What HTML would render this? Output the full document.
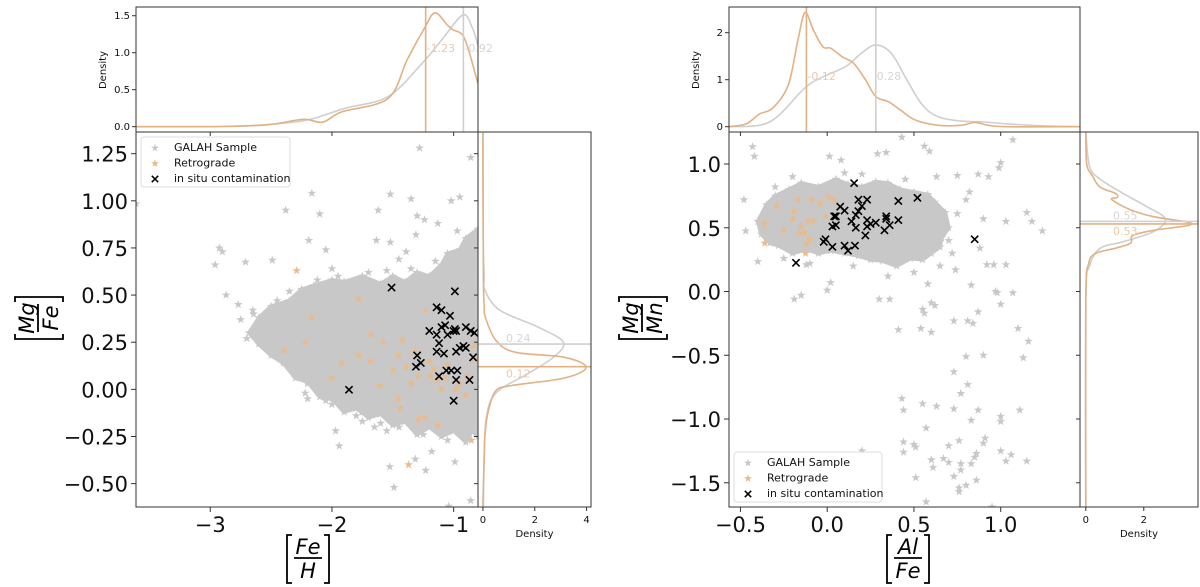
<!DOCTYPE html>
<html><head><meta charset="utf-8"><style>
html,body{margin:0;padding:0;background:#fff;}
svg{display:block;font-family:"DejaVu Sans","Liberation Sans",sans-serif;}
</style></head><body>
<svg id="fig" width="1200" height="587" viewBox="0 0 1200 587" xmlns="http://www.w3.org/2000/svg">
<defs>
<clipPath id="c1m"><rect x="136" y="132" width="342" height="375"/></clipPath>
<clipPath id="c1t"><rect x="136" y="7" width="342" height="125"/></clipPath>
<clipPath id="c1r"><rect x="478" y="132" width="113" height="375"/></clipPath>
<clipPath id="c2m"><rect x="729" y="132" width="351" height="375"/></clipPath>
<clipPath id="c2t"><rect x="729" y="7" width="351" height="125"/></clipPath>
<clipPath id="c2r"><rect x="1080" y="132" width="118" height="375"/></clipPath>
</defs>
</svg>
<script>
// ---------- LEFT PANEL DATA ([Fe/H] vs [Mg/Fe]) ----------
const L_cloud_x=[-2.68,-2.6,-2.5,-2.35,-2.25,-2.15,-2.0,-1.9,-1.75,-1.6,-1.5,-1.4,-1.3,-1.2,-1.1,-1.05,-0.95,-0.9,-0.8,-0.8,-0.85,-0.9,-1.0,-1.1,-1.2,-1.3,-1.4,-1.5,-1.6,-1.7,-1.8,-1.9,-2.0,-2.1,-2.2,-2.3,-2.4,-2.5,-2.6];
const L_cloud_y=[0.30,0.38,0.44,0.47,0.53,0.55,0.58,0.57,0.60,0.56,0.60,0.57,0.62,0.60,0.66,0.72,0.74,0.80,0.85,-0.25,-0.22,-0.28,-0.22,-0.25,-0.2,-0.24,-0.17,-0.19,-0.13,-0.15,-0.10,-0.12,-0.05,-0.04,0.04,0.06,0.14,0.18,0.24];
const L_gray_x=[-1.28,-0.86,-2.165,-1.52,-1.35,-1.02,-0.95,-2.38,-2.1,-1.62,-1.3,-1.24,-1.13,-0.97,-2.19,-2.05,-1.635,-1.52,-2.925,-2.9,-2.96,-2.71,-2.49,-2.0,-1.45,-1.39,-1.31,-3.61,-2.87,-2.77,-2.75,-2.645,-2.55,-2.565,-2.33,-2.22,-2.2,-1.97,-1.94,-1.65,-1.55,-1.525,-1.49,-1.315,-1.23,-1.18,-1.04,-0.99,-0.86,-1.04,-2.6,-2.45,-2.3,-2.4,-2.2,-2.05,-1.8,-1.75,-2.7,-2.65,-2.45,-2.35,-2.12,-1.95,-1.7,-1.55,-1.35,-1.15,-1.75,-1.85,-2.0,-1.6,-1.45,-1.25,-1.05];
const L_gray_y=[1.28,1.23,1.04,1.035,1.01,1.0,1.02,0.95,0.93,0.95,0.92,0.9,0.88,0.84,0.79,0.74,0.79,0.78,0.75,0.73,0.66,0.675,0.685,0.64,0.69,0.73,0.82,0.985,0.5,0.45,0.37,0.40,0.34,0.26,0.12,-0.02,-0.05,-0.22,-0.30,-0.2,-0.22,-0.41,-0.52,-0.37,-0.43,-0.33,-0.22,-0.385,-0.59,-0.62,0.25,0.2,0.08,0.15,0.03,-0.06,-0.14,-0.17,0.27,0.42,0.47,0.52,0.58,0.6,0.62,0.63,0.64,0.68,-0.12,-0.1,-0.08,-0.18,-0.2,-0.24,-0.27];
const L_retro_x=[-2.29,-1.78,-2.165,-2.39,-2.22,-1.92,-1.78,-1.685,-1.68,-1.58,-1.455,-1.42,-1.39,-1.32,-1.29,-1.23,-1.19,-1.16,-1.13,-1.1,-1.07,-0.95,-0.9,-0.89,-1.455,-1.44,-1.29,-1.24,-1.13,-0.855,-1.37,-1.61,-2.0,-0.84,-0.83,-1.2,-1.05,-0.98,-1.35,-1.5];
const L_retro_y=[0.63,0.48,0.38,0.205,0.25,0.14,0.18,0.15,0.29,0.25,0.18,0.26,0.12,0.2,0.07,0.42,0.07,0.11,0.05,0.0,0.06,0.03,-0.03,0.07,-0.05,-0.1,-0.16,-0.15,-0.19,-0.27,-0.4,0.02,0.06,0.23,0.16,0.15,0.13,0.0,0.03,0.1];
const L_cont_x=[-1.51,-0.99,-1.14,-1.10,-1.03,-1.20,-1.14,-1.10,-1.07,-1.05,-1.00,-0.99,-0.98,-0.90,-0.86,-0.83,-1.30,-1.31,-1.27,-1.12,-1.14,-1.08,-0.98,-0.95,-0.92,-0.90,-0.84,-1.12,-1.06,-1.02,-0.97,-0.98,-0.87,-1.00,-1.86];
const L_cont_y=[0.54,0.52,0.435,0.42,0.39,0.31,0.29,0.33,0.34,0.29,0.31,0.32,0.31,0.33,0.31,0.30,0.18,0.12,0.14,0.245,0.20,0.19,0.20,0.22,0.23,0.22,0.17,0.07,0.10,0.10,0.10,0.05,0.05,-0.06,-0.002];
const L_top_gray_x=[-3.61,-2.9,-2.52,-2.2,-1.89,-1.54,-1.257,-1.1,-0.925,-0.85,-0.80];
const L_top_gray_d=[0,0.002,0.03,0.09,0.25,0.405,0.86,1.17,1.51,1.35,1.1];
const L_top_orng_x=[-3.61,-2.9,-2.52,-2.235,-2.077,-1.92,-1.54,-1.383,-1.24,-1.153,-1.05,-1.005,-0.91,-0.80];
const L_top_orng_d=[0,0.002,0.027,0.10,0.06,0.2,0.38,0.9,1.33,1.54,1.37,1.31,1.19,0.58];
const L_rgt_gray_y=[1.36,0.8,0.6,0.525,0.42,0.33,0.25,0.17,0.08,-0.02,-0.15,-0.37,-0.62];
const L_rgt_gray_d=[0,0.01,0.05,0.08,0.65,2.13,3.1,2.72,1.69,0.5,0.13,0.05,0.02];
const L_rgt_orng_y=[1.36,0.6,0.45,0.383,0.26,0.197,0.17,0.117,0.06,0.02,-0.007,-0.113,-0.22,-0.35,-0.62];
const L_rgt_orng_d=[0,0.02,0.05,0.09,0.5,1.24,3.15,3.98,3.15,1.1,0.5,0.21,0.09,0.05,0.0];
const L_medians=[-1.23,-0.92,0.24,0.12];
const L_xticks=[-3,-2,-1], L_xtick_labels=["−3","−2","−1"];
const L_yticks=[-0.5,-0.25,0,0.25,0.5,0.75,1.0,1.25], L_ytick_labels=["−0.50","−0.25","0.00","0.25","0.50","0.75","1.00","1.25"];
const L_top_ticks=[0,0.5,1.0,1.5], L_top_tick_labels=["0.0","0.5","1.0","1.5"];
const L_rgt_ticks=[0,2,4], L_rgt_tick_labels=["0","2","4"];

// ---------- RIGHT PANEL DATA ([Al/Fe] vs [Mg/Mn]) ----------
const R_cloud_x=[-0.4,-0.35,-0.3,-0.22,-0.15,-0.05,0.05,0.12,0.2,0.28,0.35,0.42,0.5,0.58,0.62,0.68,0.7,0.66,0.65,0.6,0.55,0.48,0.4,0.32,0.25,0.18,0.1,0.02,-0.05,-0.12,-0.2,-0.28,-0.33,-0.38];
const R_cloud_y=[0.55,0.68,0.75,0.8,0.85,0.82,0.88,0.84,0.82,0.86,0.85,0.8,0.78,0.76,0.70,0.62,0.5,0.42,0.35,0.3,0.25,0.26,0.20,0.24,0.25,0.28,0.30,0.32,0.30,0.33,0.30,0.36,0.38,0.45];
const R_gray_x=[-0.43,-0.42,0.013,0.08,0.29,0.34,0.43,0.56,0.59,1.07,1.0,0.99,0.87,0.93,0.75,0.63,-0.48,-0.47,-0.4,-0.12,0.02,0.0,0.75,0.8,0.82,0.9,1.03,1.15,1.18,1.24,0.92,0.96,1.03,0.88,0.83,0.97,1.07,0.58,0.74,-0.19,-0.15,0.3,0.36,0.55,0.56,0.6,0.62,0.73,0.81,0.84,0.87,0.98,1.0,1.1,1.16,1.13,0.8,0.9,0.73,0.81,0.77,0.41,0.54,0.6,0.43,0.44,0.55,0.63,0.73,0.87,1.11,0.57,0.83,1.0,1.0,0.76,0.7,0.91,0.9,0.44,0.44,0.5,0.51,0.2,0.6,0.61,0.67,0.7,0.77,0.77,0.83,0.85,0.86,1.0,1.06,1.03,1.15,0.51,0.73,0.76,0.76,0.8,0.86,0.57,0.95,-0.3,-0.2,0.1,0.2,0.45,0.7,0.72,0.65,0.5,0.35,0.15,-0.1,-0.25];
const R_gray_y=[1.136,1.06,1.06,1.03,1.08,1.09,1.21,1.14,1.1,1.19,1.01,0.97,0.92,0.9,0.91,0.9,0.72,0.475,0.235,0.21,0.07,0.01,0.61,0.72,0.78,0.57,0.55,0.62,0.55,0.475,0.21,0.21,0.21,0.34,0.05,0.0,-0.01,0.06,0.17,-0.06,-0.03,-0.06,-0.06,-0.14,-0.17,-0.09,-0.11,-0.23,-0.23,-0.25,-0.16,-0.01,-0.1,-0.29,-0.39,-0.52,-0.51,-0.5,-0.63,-0.73,-0.8,-0.3,-0.29,-0.32,-0.84,-0.93,-0.88,-0.9,-0.92,-0.93,-0.93,-1.07,-1.01,-1.02,-0.98,-1.17,-1.21,-1.15,-1.19,-1.18,-1.26,-1.2,-1.22,-1.25,-1.32,-1.38,-1.31,-1.34,-1.35,-1.4,-1.35,-1.3,-1.27,-1.25,-1.28,-1.33,-1.33,-1.46,-1.45,-1.54,-1.57,-1.52,-1.48,-1.65,-1.69,0.82,0.9,0.93,0.92,0.88,0.4,0.3,0.2,0.15,0.12,0.2,0.22,0.26];
const R_retro_x=[-0.36,-0.36,-0.29,-0.25,-0.2,-0.19,-0.17,-0.15,-0.13,-0.12,-0.11,-0.1,-0.09,-0.08,-0.125,-0.04,-0.01,0.01,0.04,-0.16];
const R_retro_y=[0.53,0.38,0.67,0.48,0.57,0.63,0.72,0.51,0.46,0.37,0.55,0.41,0.72,0.56,0.30,0.69,0.59,0.74,0.72,0.46];
const R_cont_x=[-0.18,0.155,0.075,0.05,0.04,0.1,0.03,0.05,-0.01,-0.02,0.03,0.1,0.12,0.16,0.14,0.165,0.18,0.2,0.18,0.23,0.165,0.23,0.25,0.23,0.22,0.28,0.34,0.34,0.36,0.33,0.41,0.41,0.52,0.85];
const R_cont_y=[0.225,0.85,0.665,0.59,0.59,0.635,0.51,0.52,0.41,0.39,0.35,0.36,0.32,0.36,0.55,0.6,0.63,0.67,0.72,0.72,0.5,0.56,0.53,0.51,0.44,0.54,0.59,0.57,0.52,0.48,0.56,0.71,0.735,0.41];
const R_top_gray_x=[-0.568,-0.332,-0.13,-0.025,0.107,0.196,0.28,0.37,0.46,0.549,0.64,0.77,0.906,1.04,1.24,1.457];
const R_top_gray_d=[0,0.1,0.82,1.06,1.28,1.56,1.74,1.56,0.99,0.46,0.21,0.12,0.10,0.06,0.02,0];
const R_top_orng_x=[-0.568,-0.467,-0.39,-0.313,-0.224,-0.169,-0.128,-0.08,-0.025,0.02,0.086,0.153,0.22,0.28,0.353,0.42,0.508,0.64,0.77,0.851,0.93,1.04,1.457];
const R_top_orng_d=[0,0.06,0.27,0.4,0.89,1.84,2.43,2.06,1.7,1.67,1.49,1.35,1.0,0.64,0.53,0.36,0.143,0.029,0.03,0.09,0.03,0,0];
const R_rgt_gray_y=[1.25,0.98,0.88,0.77,0.67,0.57,0.47,0.39,0.34,0.2,-0.07,-1.69];
const R_rgt_gray_d=[0,0.13,0.5,1.28,2.07,2.74,2.34,1.28,0.5,0.13,0,0];
const R_rgt_orng_y=[1.25,1.0,0.91,0.82,0.77,0.74,0.72,0.64,0.587,0.53,0.48,0.44,0.38,0.34,0.3,0.22,-0.07,-1.69];
const R_rgt_orng_d=[0,0.03,0.22,0.49,1.02,1.09,0.9,1.55,2.34,3.67,2.34,1.62,1.55,1.02,0.35,0.1,0,0];
const R_medians=[-0.12,0.28,0.55,0.53];
const R_xticks=[-0.5,0,0.5,1.0], R_xtick_labels=["−0.5","0.0","0.5","1.0"];
const R_yticks=[-1.5,-1.0,-0.5,0,0.5,1.0], R_ytick_labels=["−1.5","−1.0","−0.5","0.0","0.5","1.0"];
const R_top_ticks=[0,1,2], R_top_tick_labels=["0","1","2"];
const R_rgt_ticks=[0,2], R_rgt_tick_labels=["0","2"];

const NS="http://www.w3.org/2000/svg";
const svg=document.getElementById('fig');
const GRAY="#c8c8c8", ORNG="#e8bb8f", LGRAY="#cfcfcf", LORNG="#e2b184";
function mk(tag,attrs,parent){const e=document.createElementNS(NS,tag);for(const k in attrs)e.setAttribute(k,attrs[k]);(parent||svg).appendChild(e);return e;}
function lin(d0,d1,r0,r1){return v=>r0+(v-d0)/(d1-d0)*(r1-r0);}
function starPath(cx,cy,R){let s="";for(let i=0;i<10;i++){const r=i%2?R*0.4:R;const a=-Math.PI/2+i*Math.PI/5;s+=(i?"L":"M")+(cx+r*Math.cos(a)).toFixed(1)+","+(cy+r*Math.sin(a)).toFixed(1);}return s+"Z";}
function smooth(pts){let d="M"+pts[0][0]+","+pts[0][1];for(let i=0;i<pts.length-1;i++){const p0=pts[i-1]||pts[i],p1=pts[i],p2=pts[i+1],p3=pts[i+2]||p2;const c1=[p1[0]+(p2[0]-p0[0])/6,p1[1]+(p2[1]-p0[1])/6],c2=[p2[0]-(p3[0]-p1[0])/6,p2[1]-(p3[1]-p1[1])/6];d+="C"+c1.join(",")+" "+c2.join(",")+" "+p2.join(",");}return d;}

function panel(P){
  const X=lin(P.xd[0],P.xd[1],P.m.x0,P.m.x1), Y=lin(P.yd[0],P.yd[1],P.m.y1,P.m.y0);
  const TD=lin(P.td[0],P.td[1],P.t.y1,P.t.y0), RD=lin(P.rd[0],P.rd[1],P.r.x0,P.r.x1);
  const gm=mk('g',{'clip-path':'url(#'+P.id+'m)'});
  
  
  const cp=P.cx.map((v,i)=>[X(v),Y(P.cy[i])]);
  const cloud=mk('path',{d:"M"+cp.map(p=>p.map(n=>n.toFixed(1)).join(",")).join("L")+"Z",fill:GRAY,stroke:GRAY,'stroke-width':4,'stroke-linejoin':'round'},gm);
  
  
  // stars along the cloud edge (rough texture)
  cp.forEach(p=>{const s=mk('path',{d:starPath(p[0],p[1],4.6),fill:GRAY},gm);
    
    });
  P.gx.forEach((v,i)=>{const s=mk('path',{d:starPath(X(v),Y(P.gy[i]),4.6),fill:GRAY},gm);
    
    });
  P.ox.forEach((v,i)=>{const s=mk('path',{d:starPath(X(v),Y(P.oy[i]),4.6),fill:ORNG},gm);
    
    });
  P.kx.forEach((v,i)=>{const x=X(v),y=Y(P.ky[i]);const s=mk('path',{d:`M${x-3.6},${y-3.6}L${x+3.6},${y+3.6}M${x-3.6},${y+3.6}L${x+3.6},${y-3.6}`,stroke:'#000','stroke-width':1.6},gm);
    
    });
  const gt=mk('g',{'clip-path':'url(#'+P.id+'t)'});
  
  
  [[P.tgx,P.tgd,LGRAY,'gray'],[P.tox,P.tod,LORNG,'retrograde']].forEach(([xs,ds,c,n])=>{
    const l=mk('path',{d:smooth(xs.map((v,i)=>[+X(v).toFixed(1),+TD(ds[i]).toFixed(1)])),fill:'none',stroke:c,'stroke-width':1.6},gt);
    
    });
  const gr=mk('g',{'clip-path':'url(#'+P.id+'r)'});
  
  
  [[P.rgy,P.rgd,LGRAY,'gray'],[P.roy,P.rod,LORNG,'retrograde']].forEach(([ys,ds,c,n])=>{
    const l=mk('path',{d:smooth(ys.map((v,i)=>[+RD(ds[i]).toFixed(1),+Y(v).toFixed(1)])),fill:'none',stroke:c,'stroke-width':1.6},gr);
    
    });
  const med=P.med;
  [[med[0],LORNG],[med[1],LGRAY]].forEach(([v,c])=>{const l=mk('line',{x1:X(v),x2:X(v),y1:P.t.y0,y2:P.t.y1,stroke:c,'stroke-width':1.6});
    
    });
  [[med[2],LGRAY],[med[3],LORNG]].forEach(([v,c])=>{const l=mk('line',{x1:P.r.x0,x2:P.r.x1,y1:Y(v),y2:Y(v),stroke:c,'stroke-width':1.6});
    
    });
  const fmt=v=>(v<0?"-":"")+Math.abs(v).toFixed(2);
  [[med[0],'#ecc9a6'],[med[1],'#d6d6d6']].forEach(([v,c])=>{const t=mk('text',{x:X(v)+1,y:P.tly,fill:c,'font-size':11},svg);t.textContent=fmt(v);
    
    });
  [[med[2],'#d6d6d6',-2],[med[3],'#ecc9a6',11]].forEach(([v,c,o])=>{const t=mk('text',{x:P.rlx,y:Y(v)+o,fill:c,'font-size':11},svg);t.textContent=fmt(v);
    
    });
  [P.t,P.m,P.r].forEach((b,i)=>{const f=mk('rect',{x:b.x0,y:b.y0,width:b.x1-b.x0,height:b.y1-b.y0,fill:'none',stroke:'#333','stroke-width':1});
    
    });
  P.xt.forEach((v,i)=>{const x=X(v);mk('line',{x1:x,x2:x,y1:P.m.y1,y2:P.m.y1+5,stroke:'#333'});mk('line',{x1:x,x2:x,y1:P.m.y0,y2:P.m.y0+4,stroke:'#333'});
    const t=mk('text',{x:x,y:P.m.y1+25,'font-size':21,'text-anchor':'middle',fill:'#111'});t.textContent=P.xl[i];
    
    });
  P.yt.forEach((v,i)=>{const y=Y(v);mk('line',{x1:P.m.x0-5,x2:P.m.x0,y1:y,y2:y,stroke:'#333'});mk('line',{x1:P.m.x1-4,x2:P.m.x1,y1:y,y2:y,stroke:'#333'});
    const t=mk('text',{x:P.m.x0-8,y:y+8,'font-size':21,'text-anchor':'end',fill:'#111'});t.textContent=P.yl[i];
    
    });
  P.tt.forEach((v,i)=>{const y=TD(v);mk('line',{x1:P.t.x0-4,x2:P.t.x0,y1:y,y2:y,stroke:'#333'});
    const t=mk('text',{x:P.t.x0-6,y:y+3.5,'font-size':10,'text-anchor':'end',fill:'#111'});t.textContent=P.tl[i];
    
    });
  P.rt.forEach((v,i)=>{const x=RD(v);mk('line',{x1:x,x2:x,y1:P.r.y1,y2:P.r.y1+4,stroke:'#333'});
    const t=mk('text',{x:x,y:P.r.y1+16,'font-size':10,'text-anchor':'middle',fill:'#111'});t.textContent=P.rl[i];
    
    });
  const d1=mk('text',{x:0,y:0,'font-size':10,'text-anchor':'middle',transform:`translate(${P.t.x0-30},70) rotate(-90)`,fill:'#111'});d1.textContent="Density";
  
  
  const d2=mk('text',{x:(P.r.x0+P.r.x1)/2,y:537,'font-size':10,'text-anchor':'middle',fill:'#111'});d2.textContent="Density";
  
  
  const lg=mk('g',{});
  
  
  const L=P.leg;
  mk('rect',{x:L.x,y:L.y,width:L.w,height:50,rx:3,fill:'#fff','fill-opacity':0.85,stroke:'#ddd'},lg);
  [["GALAH Sample",GRAY,'star'],["Retrograde",ORNG,'star'],["in situ contamination","#000",'x']].forEach(([s,c,m],i)=>{
    const y=L.y+10+i*15.5, mx=L.x+14;
    const mkr=m=='star'?mk('path',{d:starPath(mx,y+1,4.2),fill:c},lg):mk('path',{d:`M${mx-3.2},${y-2.2}L${mx+3.2},${y+4.2}M${mx-3.2},${y+4.2}L${mx+3.2},${y-2.2}`,stroke:'#000','stroke-width':1.5},lg);
    
    
    const t=mk('text',{x:L.x+33,y:y+4,'font-size':11,fill:'#111'},lg);t.textContent=s;
    
    });
}

panel({id:'c1',pre:'left',xd:[-3.61,-0.80],yd:[-0.624,1.365],td:[-0.072,1.618],rd:[-0.19,4.17],
  m:{x0:136,x1:478,y0:132,y1:507},t:{x0:136,x1:478,y0:7,y1:132},r:{x0:478,x1:591,y0:132,y1:507},
  cx:L_cloud_x,cy:L_cloud_y,gx:L_gray_x,gy:L_gray_y,ox:L_retro_x,oy:L_retro_y,kx:L_cont_x,ky:L_cont_y,
  tgx:L_top_gray_x,tgd:L_top_gray_d,tox:L_top_orng_x,tod:L_top_orng_d,rgy:L_rgt_gray_y,rgd:L_rgt_gray_d,roy:L_rgt_orng_y,rod:L_rgt_orng_d,
  med:L_medians,tly:52,rlx:506,xt:L_xticks,xl:L_xtick_labels,yt:L_yticks,yl:L_ytick_labels,tt:L_top_ticks,tl:L_top_tick_labels,rt:L_rgt_ticks,rl:L_rgt_tick_labels,
  leg:{x:141,y:137,w:149}});
panel({id:'c2',pre:'right',xd:[-0.566,1.457],yd:[-1.69,1.251],td:[-0.113,2.547],rd:[-0.2,3.87],
  m:{x0:729,x1:1080,y0:132,y1:507},t:{x0:729,x1:1080,y0:7,y1:132},r:{x0:1080,x1:1198,y0:132,y1:507},
  cx:R_cloud_x,cy:R_cloud_y,gx:R_gray_x,gy:R_gray_y,ox:R_retro_x,oy:R_retro_y,kx:R_cont_x,ky:R_cont_y,
  tgx:R_top_gray_x,tgd:R_top_gray_d,tox:R_top_orng_x,tod:R_top_orng_d,rgy:R_rgt_gray_y,rgd:R_rgt_gray_d,roy:R_rgt_orng_y,rod:R_rgt_orng_d,
  med:R_medians,tly:80,rlx:1113,xt:R_xticks,xl:R_xtick_labels,yt:R_yticks,yl:R_ytick_labels,tt:R_top_ticks,tl:R_top_tick_labels,rt:R_rgt_ticks,rl:R_rgt_tick_labels,
  leg:{x:734,y:452,w:148}});

function fracLabel(cx,cy,num,den,rot,name){
  const g=mk('g',{transform:`translate(${cx},${cy})`+(rot?' rotate(-90)':'')});
  
  
  const w=Math.max(num.length,den.length)*12+4;
  mk('line',{x1:-w/2,x2:w/2,y1:0,y2:0,stroke:'#000','stroke-width':1.8},g);
  const n=mk('text',{x:0,y:-4,'font-size':21,'font-style':'italic','text-anchor':'middle',fill:'#000'},g);n.textContent=num;
  const d=mk('text',{x:0,y:20,'font-size':21,'font-style':'italic','text-anchor':'middle',fill:'#000'},g);d.textContent=den;
  mk('path',{d:`M${-w/2-2},-23 H${-w/2-7} V25 H${-w/2-2}`,fill:'none',stroke:'#000','stroke-width':1.8},g);
  mk('path',{d:`M${w/2+2},-23 H${w/2+7} V25 H${w/2+2}`,fill:'none',stroke:'#000','stroke-width':1.8},g);
}
fracLabel(308,558,"Fe","H",false,'left-x-axis-title');
fracLabel(38,318,"Mg","Fe",true,'left-y-axis-title');
fracLabel(908,558,"Al","Fe",false,'right-x-axis-title');
fracLabel(642,318,"Mg","Mn",true,'right-y-axis-title');
</script>
</body></html>
